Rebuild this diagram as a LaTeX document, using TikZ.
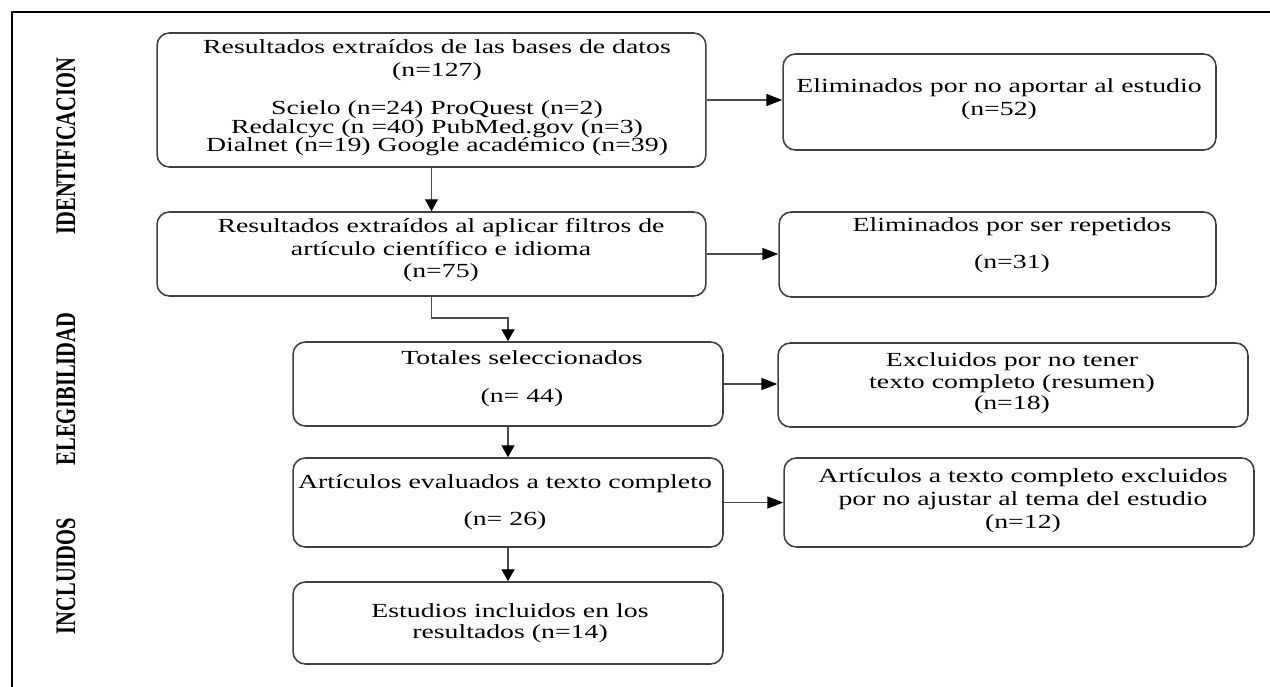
\documentclass[tikz,border=0pt]{standalone}
\usepackage{fontspec}
\setmainfont{Liberation Serif}[FakeStretch=1.39]
\newfontfamily\labfont{Liberation Serif}
\usetikzlibrary{arrows.meta}
\begin{document}
\begin{tikzpicture}[x=0.02cm,y=-0.02cm,
  box/.style={draw=black!75, line width=0.9pt, rounded corners=7pt, inner sep=0pt},
  txt/.style={align=center, inner sep=0pt, text=black},
  conn/.style={draw=black!70, line width=0.7pt},
  arrv/.style={conn, -{Triangle[length=6.8pt,width=7.4pt,color=black]}},
  arrh/.style={conn, -{Triangle[length=9pt,width=6.8pt,color=black]}},
  lab/.style={rotate=90, inner sep=0pt, font=\labfont\bfseries\fontsize{11.67pt}{12pt}\selectfont},
  frameline/.style={line width=1.1pt, draw=black}]
\useasboundingbox (0,0) rectangle (1270,686);
% partial outer frame
\coordinate (ftop) at (1272,12);
\coordinate (fcorner) at (12,12);
\coordinate (fbot) at (12,688);
\draw[frameline] (ftop) -- (fcorner) -- (fbot);

% phase labels
\node[lab] (l1) at (66,146) {\scalebox{1}[1.38]{IDENTIFICACION}};
\node[lab] (l2) at (66,389) {\scalebox{1}[1.38]{ELEGIBILIDAD}};
\node[lab] (l3) at (66,576) {\scalebox{1}[1.38]{INCLUIDOS}};

% main column boxes
\node[box, minimum width=10.98cm, minimum height=2.68cm] (b1) at (431.5,100) {};
\node[box, minimum width=10.98cm, minimum height=1.68cm] (b2) at (431.5,254) {};
\node[box, minimum width=8.6cm, minimum height=1.68cm] (b3) at (508,384) {};
\node[box, minimum width=8.6cm, minimum height=1.78cm] (b4) at (508,502.5) {};
\node[box, minimum width=8.6cm, minimum height=1.64cm] (b5) at (508,623) {};

% right column boxes
\node[box, minimum width=8.66cm, minimum height=1.92cm] (r1) at (999.5,102) {};
\node[box, minimum width=8.74cm, minimum height=1.70cm] (r2) at (997.5,254.5) {};
\node[box, minimum width=9.4cm, minimum height=1.68cm] (r3) at (1013,385) {};
\node[box, minimum width=9.4cm, minimum height=1.78cm] (r4) at (1019,502.5) {};

% texts
\node[txt, font=\fontsize{11.38pt}{10.53pt}\selectfont] (t1) at (437,98)
  {Resultados extraídos de las bases de datos\\[2.56pt](n=127)\\[11.1pt]Scielo (n=24) ProQuest (n=2)\\Redalcyc (n =40) PubMed.gov (n=3)\\Dialnet (n=19) Google académico (n=39)};
\node[txt, font=\fontsize{11.38pt}{12.8pt}\selectfont] (t2) at (441,250.5)
  {Resultados extraídos al aplicar filtros de\\artículo científico e idioma\\(n=75)};
\node[txt, font=\fontsize{11.38pt}{21.6pt}\selectfont] (t3) at (522,379)
  {Totales seleccionados\\(n= 44)};
\node[txt, font=\fontsize{11.38pt}{21.06pt}\selectfont] (t4) at (505,502.5)
  {Artículos evaluados a texto completo\\(n= 26)};
\node[txt, font=\fontsize{11.38pt}{11.95pt}\selectfont] (t5) at (510,623.5)
  {Estudios incluidos en los\\resultados (n=14)};
\node[txt, font=\fontsize{11.38pt}{13.09pt}\selectfont] (u1) at (999,99.5)
  {Eliminados por no aportar al estudio\\(n=52)};
\node[txt, font=\fontsize{11.38pt}{21.06pt}\selectfont] (u2) at (1012,245.5)
  {Eliminados por ser repetidos\\(n=31)};
\node[txt, font=\fontsize{11.38pt}{12.24pt}\selectfont] (u3) at (1012,383.5)
  {Excluidos por no tener\\texto completo (resumen)\\(n=18)};
\node[txt, font=\fontsize{11.38pt}{13.09pt}\selectfont] (u4) at (1023,501)
  {Artículos a texto completo excluidos\\por no ajustar al tema del estudio\\(n=12)};

% vertical connectors
\coordinate (e1) at (431.5,318);
\draw[arrv] (b1.south) -- (b2.north);
\draw[arrv] (b2.south) -- (e1) -| (b3.north);
\draw[arrv] (b3.south) -- (b4.north);
\draw[arrv] (b4.south) -- (b5.north);

% horizontal connectors
\draw[arrh] (b1.east) -- (b1.east -| r1.west);
\draw[arrh] (b2.east) -- (b2.east -| r2.west);
\draw[arrh] (b3.east) -- (b3.east -| r3.west);
\draw[arrh] (b4.east) -- (b4.east -| r4.west);
\end{tikzpicture}
\end{document}
